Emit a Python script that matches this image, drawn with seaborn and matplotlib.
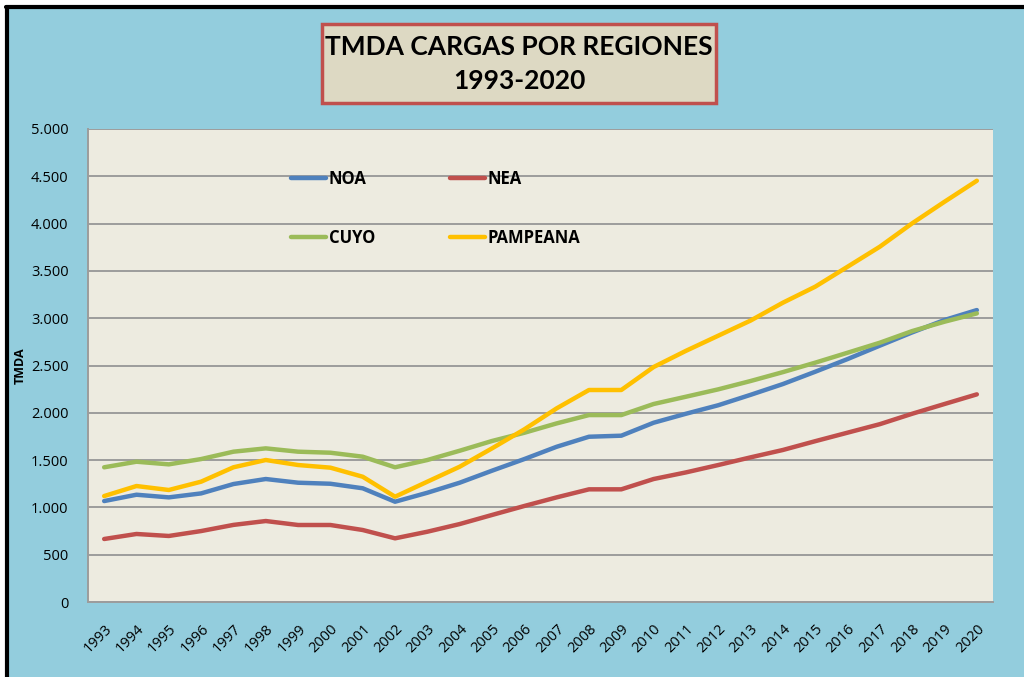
import matplotlib
matplotlib.use("Agg")
import matplotlib.pyplot as plt
import matplotlib.patches as mpatches
import matplotlib.ticker as mticker
from matplotlib import font_manager
import seaborn as sns
import pandas as pd

years = list(range(1993, 2021))
noa = [1067, 1134, 1106, 1148, 1247, 1300, 1261, 1250, 1202, 1060, 1155, 1261, 1388, 1511,
       1641, 1747, 1758, 1895, 1990, 2080, 2190, 2304, 2434, 2568, 2710, 2850, 2981, 3086]
nea = [666, 719, 698, 750, 815, 856, 814, 814, 761, 673, 743, 824, 920, 1015,
       1106, 1191, 1191, 1300, 1370, 1448, 1529, 1607, 1700, 1790, 1880, 1990, 2093, 2195]
cuyo = [1424, 1483, 1455, 1511, 1589, 1624, 1589, 1578, 1536, 1424, 1501, 1599, 1702, 1789,
        1888, 1976, 1976, 2093, 2170, 2248, 2336, 2430, 2530, 2635, 2741, 2864, 2963, 3051]
pampeana = [1120, 1226, 1184, 1272, 1424, 1501, 1448, 1420, 1324, 1113, 1272, 1430, 1624, 1825,
            2047, 2241, 2241, 2484, 2655, 2815, 2975, 3164, 3333, 3544, 3756, 4003, 4231, 4453]
regions = ["NOA", "NEA", "CUYO", "PAMPEANA"]
colors = ["#4F81BD", "#C0504D", "#9BBB59", "#FFC000"]
title_lines = ["TMDA CARGAS POR REGIONES", "1993-2020"]
ylabel = "TMDA"

df = pd.DataFrame({"Año": years, "NOA": noa, "NEA": nea, "CUYO": cuyo, "PAMPEANA": pampeana})
long = df.melt(id_vars="Año", var_name="Región", value_name="TMDA")

sns.set_theme(style="white")
plt.rcParams["font.family"] = ["Open Sans", "DejaVu Sans"]
plt.rcParams["text.color"] = "#000000"

avail = {f.name for f in font_manager.fontManager.ttflist}
if "Liberation Sans Narrow" in avail:
    tfam, tsize = ["Liberation Sans Narrow", "DejaVu Sans"], 21
elif "DejaVu Sans Condensed" in avail:
    tfam, tsize = ["DejaVu Sans Condensed", "DejaVu Sans"], 18
else:
    tfam, tsize = ["Lato", "DejaVu Sans"], 19

W, H = 1024, 677
fig = plt.figure(figsize=(W / 100, H / 100), dpi=100)
fig.patch.set_facecolor("#93CDDD")
ax = fig.add_axes([88 / W, 1 - 602 / H, (993 - 88) / W, (602 - 129) / H])
ax.set_facecolor("#EDEBE0")

sns.lineplot(data=long, x="Año", y="TMDA", hue="Región", hue_order=regions,
             palette=colors, linewidth=3.2, ax=ax, legend=True)

ax.set_xlim(1992.5, 2020.5)
ax.set_ylim(0, 5000)
ax.set_xticks(years)
ax.set_xticklabels([str(y) for y in years], rotation=45, ha="right",
                   rotation_mode="anchor", fontsize=10.5, color="#000000")
ax.set_yticks(range(0, 5001, 500))
ax.yaxis.set_major_formatter(mticker.FuncFormatter(lambda v, p: f"{int(v):,}".replace(",", ".")))
ax.tick_params(axis="y", length=0, pad=14, labelsize=10.5, labelcolor="#000000")
ax.tick_params(axis="x", length=0, pad=14)
ax.grid(axis="y", color="#9C9C9C", linewidth=1.4)
ax.grid(axis="x", visible=False)
ax.set_axisbelow(True)
ax.set_xlabel("")
ax.set_ylabel("")
for s in ["top", "right"]:
    ax.spines[s].set_visible(False)
for s in ["left", "bottom"]:
    ax.spines[s].set_color("#9C9C9C")
    ax.spines[s].set_linewidth(1.4)

handles, labels = ax.get_legend_handles_labels()
hmap = dict(zip(labels, handles))
order = ["NOA", "CUYO", "NEA", "PAMPEANA"]  # column-major -> rows: NOA NEA / CUYO PAMPEANA
ax.legend_.remove()
leg = ax.legend([hmap[k] for k in order], order, ncol=2, frameon=False, loc="upper left",
                bbox_to_anchor=(291 / W, 1 - 170 / H), bbox_transform=fig.transFigure,
                borderaxespad=0, borderpad=0, handlelength=2.1, handletextpad=0.15,
                labelspacing=2.45, columnspacing=4.5,
                prop={"family": ["Open Sans", "DejaVu Sans"], "weight": "bold", "size": 12})
for line in leg.get_lines():
    line.set_linewidth(3.2)
for t in leg.get_texts():
    t.set_color("#000000")

fig.text(20 / W, 1 - 366 / H, ylabel, rotation=90, ha="center", va="center",
         fontsize=9, fontweight="bold", color="#000000")

# title box
box = mpatches.Rectangle((322 / W, 1 - 103 / H), (716 - 322) / W, (103 - 24) / H,
                         transform=fig.transFigure, facecolor="#DDD9C3",
                         edgecolor="#C0504D", linewidth=2.5, zorder=5)
fig.patches.append(box)
fig.text(519 / W, 1 - 47 / H, title_lines[0], ha="center", va="center", fontsize=tsize,
         fontweight="bold", family=tfam, color="#000000", zorder=6)
fig.text(519 / W, 1 - 81 / H, title_lines[1], ha="center", va="center", fontsize=tsize,
         fontweight="bold", family=tfam, color="#000000", zorder=6)

# outer border (white margin + black frame)
fig.patches.append(mpatches.Rectangle((0, 1 - 5 / H), 1, 5 / H, transform=fig.transFigure,
                                      facecolor="white", edgecolor="none", zorder=7))
fig.patches.append(mpatches.Rectangle((0, 0), 5 / W, 1, transform=fig.transFigure,
                                      facecolor="white", edgecolor="none", zorder=7))
fig.add_artist(plt.Line2D([7 / W, 7 / W], [0, 1 - 6.5 / H], transform=fig.transFigure,
                          color="black", linewidth=3, zorder=8))
fig.add_artist(plt.Line2D([5.5 / W, 1], [1 - 6.5 / H, 1 - 6.5 / H], transform=fig.transFigure,
                          color="black", linewidth=3, zorder=8))

fig.savefig("out.png", dpi=100, facecolor=fig.get_facecolor())
